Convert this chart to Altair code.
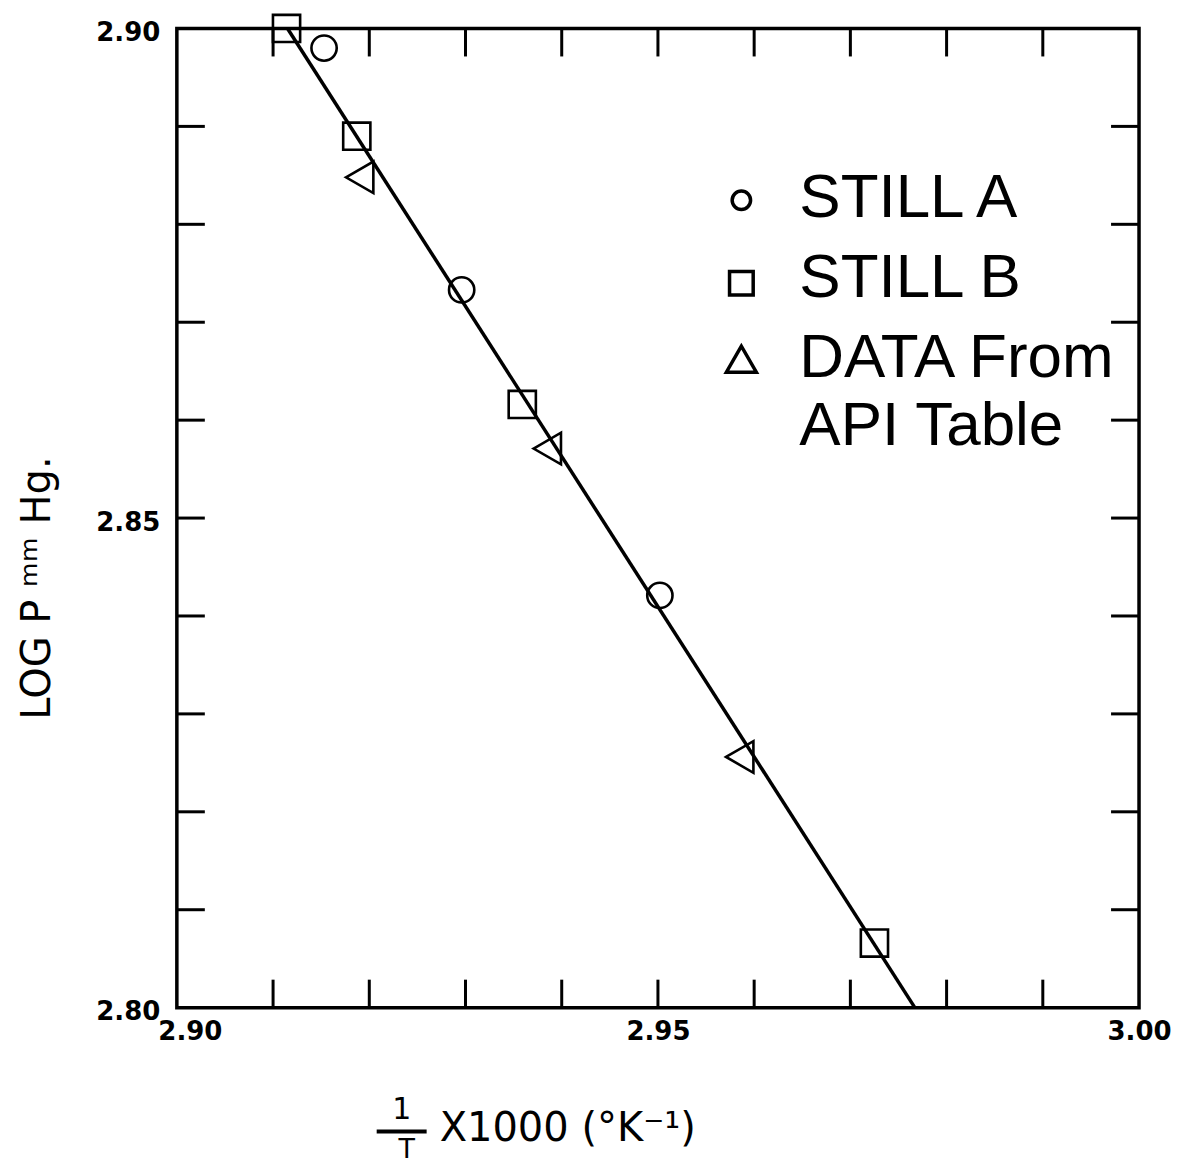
import altair as alt
import pandas as pd

# ---- data ----
still_a_x = [2.9153, 2.9296, 2.9502]
still_a_y = [2.8980, 2.8733, 2.8421]

still_b_x = [2.9114, 2.9187, 2.9359, 2.9725]
still_b_y = [2.9000, 2.8890, 2.8616, 2.8066]

api_x = [2.9190, 2.9385, 2.9585]
api_y = [2.8848, 2.8571, 2.8256]

fit_x = [2.9115, 2.9767]
fit_y = [2.9000, 2.8000]

x_tick_vals = [2.91, 2.92, 2.93, 2.94, 2.95, 2.96, 2.97, 2.98, 2.99]
y_tick_vals = [2.81, 2.82, 2.83, 2.84, 2.85, 2.86, 2.87, 2.88, 2.89]
x_label_vals = [2.90, 2.95, 3.00]
y_label_vals = [2.80, 2.85, 2.90]

legend_labels = ["STILL A", "STILL B", "DATA From", "API Table"]

W, H = 963, 980
TICK = 28

xs = alt.Scale(domain=[2.90, 3.00], nice=False, zero=False)
ys = alt.Scale(domain=[2.80, 2.90], nice=False, zero=False)

lab_font = "DejaVu Sans"

x_axis = alt.Axis(values=x_label_vals, format=".2f", title=None, grid=False,
                  domain=False, ticks=False, labelFont=lab_font, labelFontWeight="bold",
                  labelFontSize=26, labelColor="black", labelPadding=11, labelFlush=False,
                  labelOffset={"condition": {"test": "datum.value < 2.91", "value": 13},
                               "value": 0})
y_axis = alt.Axis(values=y_label_vals, format=".2f", title=None, grid=False,
                  domain=False, ticks=False, labelFont=lab_font, labelFontWeight="bold",
                  labelFontSize=26, labelColor="black", labelPadding=17, labelFlush=False,
                  labelOffset=4)


def series(xv, yv, shape, size, sw):
    df = pd.DataFrame({"x": xv, "y": yv})
    return alt.Chart(df).mark_point(shape=shape, filled=False, size=size,
                                    stroke="black", strokeWidth=sw, opacity=1).encode(
        x=alt.X("x:Q", scale=xs, axis=x_axis),
        y=alt.Y("y:Q", scale=ys, axis=y_axis),
    )


fit = alt.Chart(pd.DataFrame({"x": fit_x, "y": fit_y})).mark_line(
    color="black", strokeWidth=3.5).encode(
    x=alt.X("x:Q", scale=xs, axis=x_axis),
    y=alt.Y("y:Q", scale=ys, axis=y_axis),
)

pa = series(still_a_x, still_a_y, "circle", 640, 2.6)
pb = series(still_b_x, still_b_y, "square", 740, 2.6)
pc = series(api_x, api_y, "triangle-left", 1000, 2.6)

xt = pd.DataFrame({"v": x_tick_vals})
yt = pd.DataFrame({"v": y_tick_vals})
tick_style = dict(color="black", strokeWidth=3)
bottom_ticks = alt.Chart(xt).mark_rule(**tick_style).encode(
    x=alt.X("v:Q", scale=xs), y=alt.value(H), y2=alt.value(H - TICK))
top_ticks = alt.Chart(xt).mark_rule(**tick_style).encode(
    x=alt.X("v:Q", scale=xs), y=alt.value(0), y2=alt.value(TICK))
left_ticks = alt.Chart(yt).mark_rule(**tick_style).encode(
    y=alt.Y("v:Q", scale=ys), x=alt.value(0), x2=alt.value(TICK))
right_ticks = alt.Chart(yt).mark_rule(**tick_style).encode(
    y=alt.Y("v:Q", scale=ys), x=alt.value(W), x2=alt.value(W - TICK))


def txt(s, x, y, size, align="left", baseline="alphabetic", angle=0, weight="normal",
        font="Liberation Sans"):
    kw = dict(align=align, baseline=baseline, fontSize=size, font=font,
              fontWeight=weight, color="black")
    if angle:
        kw["angle"] = angle
    return alt.Chart(pd.DataFrame({"t": [s]})).mark_text(**kw).encode(
        text="t:N", x=alt.value(x), y=alt.value(y))


# legend (custom, inside plot)
leg_font = 62
leg_x = 623
leg_base = [189, 269, 349, 417]
legend_layers = [txt(lbl, leg_x, b, leg_font) for lbl, b in zip(legend_labels, leg_base)]


def leg_sym(shape, size, y):
    return alt.Chart(pd.DataFrame({"t": [0]})).mark_point(
        shape=shape, size=size, filled=False, stroke="black", strokeWidth=3.5, opacity=1).encode(
        x=alt.value(565), y=alt.value(y))


legend_syms = [leg_sym("circle", 340, 172), leg_sym("square", 560, 255),
               leg_sym("triangle-up", 900, 331)]

# axis titles
x_title = [
    txt("1", 225, 1082, 30, align="center", baseline="middle", font="DejaVu Sans"),
    alt.Chart(pd.DataFrame({"t": [0]})).mark_rule(color="black", strokeWidth=4).encode(
        x=alt.value(200), x2=alt.value(250), y=alt.value(1104)),
    txt("T", 230, 1109, 27, align="center", baseline="top", font="DejaVu Sans"),
    txt("X1000 (°K⁻¹)", 263, 1101, 40, align="left", baseline="middle", font="DejaVu Sans"),
]
y_title = [txt("LOG  P  ᵐᵐ Hg.", -139, 560, 40, align="center", baseline="middle",
               angle=270, font="DejaVu Sans")]

chart = alt.layer(
    fit, pa, pb, pc, bottom_ticks, top_ticks, left_ticks, right_ticks,
    *legend_syms, *legend_layers, *x_title, *y_title
).properties(
    width=W, height=H,
    padding={"left": 169, "top": 20, "right": 33, "bottom": 160},
    autosize=alt.AutoSizeParams(type="none"),
    background="white",
).configure_view(stroke="black", strokeWidth=3.5)

chart.save("out.html", embed_options={"renderer": "svg", "actions": False})
